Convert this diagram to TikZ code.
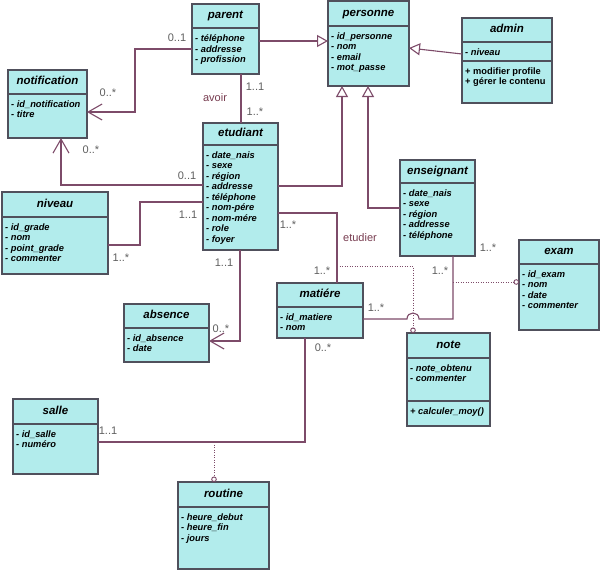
\documentclass[tikz,border=0pt]{standalone}
\usepackage{fontspec}
\setmainfont{Liberation Sans}
\usetikzlibrary{arrows.meta,fit}
\definecolor{boxfill}{RGB}{178,236,236}
\definecolor{boxline}{RGB}{80,80,92}
\definecolor{conn}{RGB}{125,75,105}
\definecolor{mult}{RGB}{95,95,95}
\definecolor{assoc}{RGB}{120,60,80}
\tikzset{
 classbox/.style={draw=boxline, fill=boxfill, line width=1.1pt, inner sep=0pt, outer sep=0pt},
 sepline/.style={draw=boxline, line width=1.1pt},
 titletext/.style={font=\fontsize{11.5}{12}\selectfont\bfseries\itshape, inner sep=0pt, text height=8.3pt, text depth=2.4pt},
 attrtext/.style={font=\fontsize{9.3}{10.5}\selectfont\bfseries\itshape, inner sep=0pt},
 opertext/.style={font=\fontsize{9.3}{10.5}\selectfont\bfseries, inner sep=0pt},
 conline/.style={draw=conn, line width=1.1pt},
 dotline/.style={draw=conn, line width=0.9pt, dash pattern=on 0.9pt off 1.6pt},
 multlabel/.style={text=mult, font=\fontsize{11}{12}\selectfont, inner sep=0pt, text height=8pt, text depth=0pt},
 assoclabel/.style={text=assoc, font=\fontsize{11}{12}\selectfont, inner sep=0pt, text height=8pt, text depth=0pt},
 gentip/.style={-{Triangle[open,length=11pt,width=12pt]}},
 navtip/.style={-{Straight Barb[length=14pt,width=16pt]}},
 lollitip/.style={-{Circle[open,length=5.5pt,width=5.5pt]}},
}
\newcommand\umlclass[7]{%
  \node[classbox, fit={(#2,#3) (#4,#5)}] (#1) {};
  \draw[sepline] (#2,#6) -- (#4,#6);
  \node[titletext] (#1-title) at ({(#2+#4)/2},{(#3+#6)/2}) {#7};
}
\newcommand\umlattrs[5]{%
  \foreach \txt [count=\i] in {#5} {
    \node[#4, anchor=base west] (#1-\i) at (#2, {#3+(\i-1)*10.5}) {\txt};
  }
}
\begin{document}
\begin{tikzpicture}[x=1pt,y=-1pt]
\fill[white] (0,0) rectangle (601,570);
\useasboundingbox (0,0) rectangle (601,570);

% classes
\umlclass{parent}{192}{4}{259}{74}{28}{parent}
\umlattrs{parenta}{195}{41.5}{attrtext}{- téléphone,- addresse,- profission}

\umlclass{personne}{328}{1}{409}{86}{26}{personne}
\umlattrs{personnea}{331}{39}{attrtext}{- id\_personne,- nom,- email,- mot\_passe}

\umlclass{admin}{462}{18}{552}{103}{42}{admin}
\draw[sepline] (462,61) -- (552,61);
\umlattrs{admina}{465}{55}{attrtext}{- niveau}
\umlattrs{admino}{465}{74}{opertext}{+ modifier profile,+ gérer le contenu}

\umlclass{notification}{8}{70}{87}{138}{94}{notification}
\umlattrs{notificationa}{11}{107}{attrtext}{- id\_notification,- titre}

\umlclass{etudiant}{203}{123}{278}{250}{145}{etudiant}
\umlattrs{etudianta}{206}{158}{attrtext}{- date\_nais,- sexe,- région,- addresse,- téléphone,- nom-pére,- nom-mére,- role,- foyer}

\umlclass{niveau}{2}{192}{108}{274}{217}{niveau}
\umlattrs{niveaua}{5}{230}{attrtext}{- id\_grade,- nom,- point\_grade,- commenter}

\umlclass{absence}{124}{304}{209}{362}{328}{absence}
\umlattrs{absencea}{127}{341}{attrtext}{- id\_absence,- date}

\umlclass{enseignant}{400}{160}{475}{256}{183}{enseignant}
\umlattrs{enseignanta}{403}{196}{attrtext}{- date\_nais,- sexe,- région,- addresse,- téléphone}

\umlclass{exam}{519}{240}{599}{330}{264}{exam}
\umlattrs{exama}{522}{277}{attrtext}{- id\_exam,- nom,- date,- commenter}

\umlclass{matiere}{277}{283}{363}{338}{307}{matiére}
\umlattrs{matierea}{280}{320}{attrtext}{- id\_matiere,- nom}

\umlclass{note}{407}{333}{490}{426}{358}{note}
\draw[sepline] (407,401) -- (490,401);
\umlattrs{notea}{410}{371}{attrtext}{- note\_obtenu,- commenter}
\umlattrs{noteo}{410}{414}{attrtext}{+ calculer\_moy()}

\umlclass{salle}{13}{399}{98}{474}{424}{salle}
\umlattrs{sallea}{16}{437}{attrtext}{- id\_salle,- numéro}

\umlclass{routine}{178}{482}{269}{569}{507}{routine}
\umlattrs{routinea}{181}{520}{attrtext}{- heure\_debut,- heure\_fin,- jours}

% connectors
\draw[conline,gentip] (parent.east |- 0,41) -- (personne.west |- 0,41);
\draw[conline,gentip] (admin.west |- 0,54) -- (personne.east |- 0,48);
\draw[conline,navtip] (parent.west |- 0,49) -- (135,49) -- (135,112) -- (notification.east |- 0,112);
\draw[conline] (parent.south -| 241,0) -- (etudiant.north -| 241,0);
\draw[conline,navtip] (etudiant.west |- 0,185) -- (61,185) -- (notification.south -| 61,0);
\draw[conline,gentip] (etudiant.east |- 0,186) -- (342,186) -- (personne.south -| 342,0);
\draw[conline,gentip] (enseignant.west |- 0,208) -- (368,208) -- (personne.south -| 368,0);
\draw[conline] (etudiant.west |- 0,202) -- (140,202) -- (140,245) -- (niveau.east |- 0,245);
\draw[conline,navtip] (etudiant.south -| 240,0) -- (240,341) -- (absence.east |- 0,341);
\draw[conline] (etudiant.east |- 0,213) -- (337,213) -- (matiere.north -| 337,0);
\coordinate (etudierlink) at (337,266);
\draw[dotline,lollitip] (etudierlink) -- (413,266) -- (note.north -| 413,0);
\draw[conline] (matiere.east |- 0,319) -- (407,319) .. controls (407,311) and (419,311) .. (419,319) -- (453,319) -- (enseignant.south -| 453,0);
\coordinate (enslink) at (453,282);
\draw[dotline,lollitip] (enslink) -- (exam.west |- 0,282);
\draw[conline] (matiere.south -| 305,0) -- (305,442) -- (salle.east |- 0,442);
\coordinate (sallelink) at (214,442);
\draw[dotline,lollitip] (sallelink) -- (routine.north -| 214,0);

% labels
\node[multlabel] (lpn1) at (177,37) {0..1};
\node[multlabel] (lpn2) at (108,92) {0..*};
\node[multlabel] (lpe1) at (255,86) {1..1};
\node[assoclabel] (lavoir) at (215,97) {avoir};
\node[multlabel] (lpe2) at (255,111) {1..*};
\node[multlabel] (len1) at (91,149) {0..*};
\node[multlabel] (len2) at (187,175) {0..1};
\node[multlabel] (lnv1) at (188,214) {1..1};
\node[multlabel] (lnv2) at (121,257) {1..*};
\node[multlabel] (lab1) at (224,262) {1..1};
\node[multlabel] (lab2) at (221,328) {0..*};
\node[multlabel] (lem1) at (288,224) {1..*};
\node[assoclabel] (letudier) at (360,237) {etudier};
\node[multlabel] (lem2) at (322,270) {1..*};
\node[multlabel] (lme1) at (376,307) {1..*};
\node[multlabel] (lme2) at (440,270) {1..*};
\node[multlabel] (lme3) at (488,247) {1..*};
\node[multlabel] (lms1) at (323,347) {0..*};
\node[multlabel] (lms2) at (108,430) {1..1};
\end{tikzpicture}
\end{document}
